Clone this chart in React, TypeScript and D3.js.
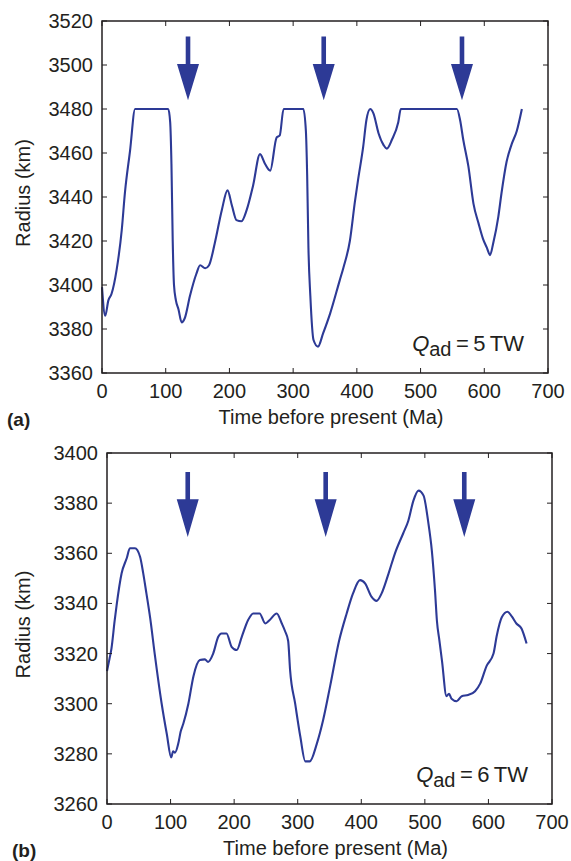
import React from 'react'
import * as d3 from 'd3'

// panel (a): Q_ad = 5 TW
const timeA = [0, 5, 10, 15, 23, 31, 36, 44, 52, 104, 107, 109, 111, 113, 116, 120, 125, 130, 138, 148, 154, 162, 168, 177, 188, 197, 204, 211, 219, 227, 237, 248, 256, 264, 274, 279, 285, 316, 320, 322, 324, 327, 332, 339, 347, 358, 373, 379, 389, 397, 402, 410, 415, 421, 426, 434, 442, 447, 455, 465, 469, 557, 562, 567, 575, 583, 591, 598, 604, 609, 614, 622, 627, 635, 643, 651, 659]
const radiusA = [3399, 3386, 3393, 3396, 3407, 3425, 3442, 3461, 3480, 3480, 3474, 3455, 3420, 3400, 3393, 3389, 3383, 3385, 3395, 3405, 3409, 3407.6, 3409, 3419, 3434, 3443, 3436, 3429.5, 3429, 3434, 3445, 3459.5, 3455, 3452, 3467, 3468, 3480, 3480, 3470, 3450, 3417, 3395, 3375, 3372, 3378, 3387, 3402, 3408, 3420, 3438, 3448, 3463, 3475, 3480, 3478, 3469, 3463.6, 3462, 3466, 3474, 3480, 3480, 3475, 3466, 3454, 3437, 3428, 3421, 3417, 3413.6, 3419, 3431, 3441.7, 3456, 3464, 3470, 3480]

// panel (b): Q_ad = 6 TW
const timeB = [0, 4, 7, 12, 15, 23, 31, 36, 44, 52, 57, 62, 68, 75, 86, 94, 101, 104, 107, 112, 116, 120, 128, 136, 146, 154, 159, 167, 175, 180, 188, 196, 204, 212, 222, 230, 240, 249, 256, 267, 275, 280, 285, 288, 296, 304, 312, 319, 330, 340, 351, 365, 377, 387, 398, 406, 416, 424, 432, 443, 453, 466, 474, 482, 490, 498, 505, 511, 516, 519, 523, 527, 534, 538, 542, 550, 558, 568, 579, 587, 597, 608, 613, 621, 630, 637, 644, 652, 660]
const radiusB = [3313, 3318, 3322, 3333, 3339, 3352, 3358, 3362, 3362, 3358.6, 3352, 3344, 3334, 3320, 3300, 3288, 3278.6, 3281, 3280.5, 3284, 3289, 3292, 3300, 3311, 3317.4, 3317.7, 3316.7, 3320, 3326.7, 3328, 3328, 3322.7, 3321.4, 3326.7, 3333.4, 3336, 3336, 3332, 3333.4, 3336, 3332, 3329, 3325, 3313.4, 3300, 3287, 3277, 3277, 3284, 3293.5, 3307, 3325, 3336, 3344, 3349.3, 3348, 3342.7, 3341, 3344, 3352, 3360, 3368, 3373, 3381, 3385, 3383, 3373, 3361, 3345, 3333, 3325, 3317, 3303, 3304, 3302, 3301, 3303, 3303.5, 3305, 3308, 3315, 3320, 3327, 3334.5, 3336.7, 3334.7, 3332, 3330, 3324]

const xTicks = [0, 100, 200, 300, 400, 500, 600, 700]
const yTicksA = [3360, 3380, 3400, 3420, 3440, 3460, 3480, 3500, 3520]
const yTicksB = [3260, 3280, 3300, 3320, 3340, 3360, 3380, 3400]

// arrows: time, shaft top, head base, tip (km)
const arrowsA = [135, 348, 565]
const arrowLevelsA = [3513, 3500.5, 3484]
const arrowsB = [127, 344, 562]
const arrowLevelsB = [3392.4, 3381.6, 3366.5]

const INK = '#231f20'
const BLUE = '#2d3a96'
const FONT = '"Liberation Sans", Arial, Helvetica, sans-serif'

type PanelProps = {
  box: { left: number; top: number; right: number; bottom: number }
  time: number[]
  radius: number[]
  yDomain: [number, number]
  yTicks: number[]
  arrows: number[]
  levels: number[]
  tag: string
  q: string
}

const Panel = ({ box, time, radius, yDomain, yTicks, arrows, levels, tag, q }: PanelProps) => {
  const x = d3.scaleLinear().domain([0, 700]).range([box.left, box.right])
  const y = d3.scaleLinear().domain(yDomain).range([box.bottom, box.top])
  const pts = time.map((t, i) => [t, radius[i]] as [number, number])
  const line = d3.line<[number, number]>()
    .x(d => x(d[0]))
    .y(d => y(d[1]))
    .curve(d3.curveMonotoneX)
  const tk = 5
  const midY = (box.top + box.bottom) / 2 - 4
  const midX = (box.left + box.right) / 2 + 6

  return (
    <g fontFamily={FONT} fill={INK}>
      <path d={line(pts) || ''} fill="none" stroke={BLUE} strokeWidth={2.1} strokeLinejoin="round" />

      {arrows.map((t, i) => {
        const cx = x(t)
        const [a, b, c] = levels.map(v => y(v))
        const sw = 2.3, hw = 11
        const d = `M${cx - sw},${a} L${cx + sw},${a} L${cx + sw},${b} L${cx + hw},${b} L${cx},${c} L${cx - hw},${b} L${cx - sw},${b} Z`
        return <path key={i} d={d} fill={BLUE} />
      })}

      <rect x={box.left} y={box.top} width={box.right - box.left} height={box.bottom - box.top}
        fill="none" stroke={INK} strokeWidth={1.5} />

      {xTicks.map(t => (
        <g key={'x' + t}>
          <line x1={x(t)} x2={x(t)} y1={box.bottom} y2={box.bottom - tk} stroke={INK} strokeWidth={1} />
          <line x1={x(t)} x2={x(t)} y1={box.top} y2={box.top + tk} stroke={INK} strokeWidth={1} />
          <text x={x(t)} y={box.bottom + 25} textAnchor="middle" fontSize={20}>{t}</text>
        </g>
      ))}
      {yTicks.map(v => (
        <g key={'y' + v}>
          <line x1={box.left} x2={box.left + tk} y1={y(v)} y2={y(v)} stroke={INK} strokeWidth={1} />
          <line x1={box.right} x2={box.right - tk} y1={y(v)} y2={y(v)} stroke={INK} strokeWidth={1} />
          <text x={box.left - 9} y={y(v) + 7} textAnchor="end" fontSize={20}>{v}</text>
        </g>
      ))}

      <text x={midX} y={box.bottom + 51} textAnchor="middle" fontSize={20}>Time before present (Ma)</text>
      <text transform={`translate(30,${midY}) rotate(-90)`} textAnchor="middle" fontSize={20}>Radius (km)</text>
      <text x={box.left - 95} y={box.bottom + 53} fontSize={19} fontWeight="bold">{tag}</text>

      <text x={box.right - 24} y={box.bottom - 22} textAnchor="end" fontSize={22}>
        <tspan fontStyle="italic">Q</tspan>
        <tspan fontSize={20} dy={5}>ad</tspan>
        <tspan dy={-5}>{'\u2009=\u2009' + q + '\u2009TW'}</tspan>
      </text>
    </g>
  )
}

export default function App() {
  return (
    <svg width={571} height={861} style={{ position: 'absolute', left: 0, top: 0, background: '#fff' }}>
      <Panel box={{ left: 102, top: 21, right: 548, bottom: 373 }} time={timeA} radius={radiusA}
        yDomain={[3360, 3520]} yTicks={yTicksA} arrows={arrowsA} levels={arrowLevelsA} tag="(a)" q="5" />
      <Panel box={{ left: 107, top: 453, right: 552, bottom: 804 }} time={timeB} radius={radiusB}
        yDomain={[3260, 3400]} yTicks={yTicksB} arrows={arrowsB} levels={arrowLevelsB} tag="(b)" q="6" />
    </svg>
  )
}
